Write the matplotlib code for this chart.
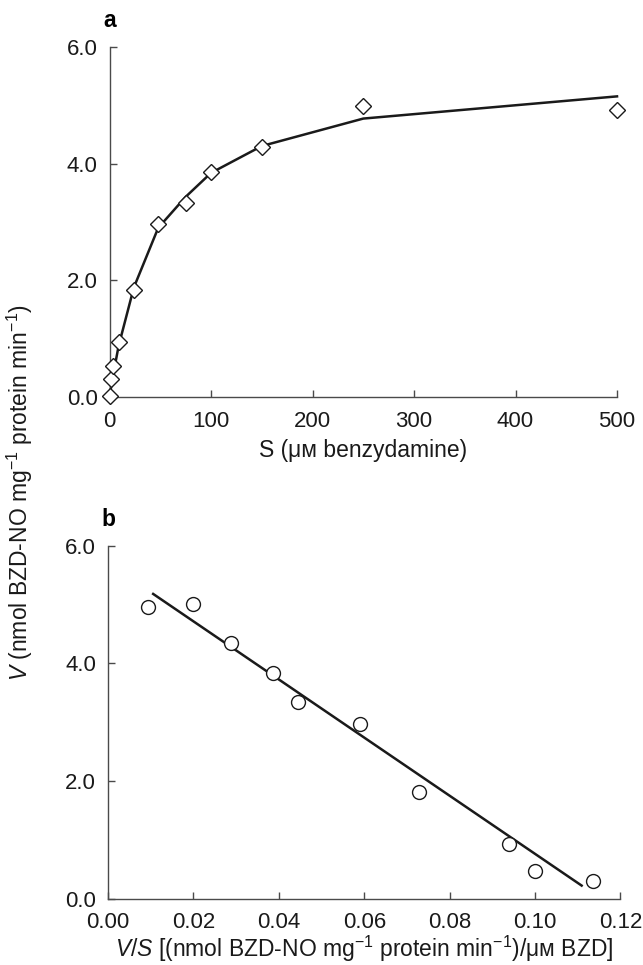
import matplotlib
matplotlib.use("Agg")
import matplotlib.pyplot as plt

plt.rcParams['font.family'] = ['Liberation Sans', 'DejaVu Sans']
plt.rcParams['mathtext.fontset'] = 'custom'
plt.rcParams['mathtext.rm'] = 'Liberation Sans'
plt.rcParams['mathtext.it'] = 'Liberation Sans:italic'
plt.rcParams['mathtext.bf'] = 'Liberation Sans:bold'

# Panel a: Michaelis-Menten
s_conc = [0, 1.5, 3, 9, 24, 48, 75, 100, 150, 250, 500]
v_obs = [0.02, 0.31, 0.54, 0.95, 1.84, 2.97, 3.32, 3.86, 4.29, 4.99, 4.92]
v_fit = [0.0, 0.17, 0.33, 0.88, 1.88, 2.90, 3.43, 3.84, 4.30, 4.77, 5.15]

# Panel b: Eadie-Hofstee
vs_obs = [0.0094, 0.0199, 0.0287, 0.0386, 0.0444, 0.0589, 0.0729, 0.0940, 0.0999, 0.1136]
v_obs_b = [4.96, 5.01, 4.34, 3.84, 3.34, 2.96, 1.81, 0.93, 0.47, 0.29]
vs_line = [0.01057, 0.1109]
v_line = [5.18, 0.22]

xticks_a = [0, 100, 200, 300, 400, 500]
yticks = [0.0, 2.0, 4.0, 6.0]
xticks_b = [0.00, 0.02, 0.04, 0.06, 0.08, 0.10, 0.12]

FS_TICK = 16
FS_LAB = 16.5
spine_col = '#4a4a4a'

fig = plt.figure(figsize=(6.43, 9.65), dpi=100)
ax1 = fig.add_axes([0.1703, 0.5883, 0.7893, 0.3633])
ax2 = fig.add_axes([0.1680, 0.0689, 0.7970, 0.3656])

for ax in (ax1, ax2):
    for side in ('top', 'right'):
        ax.spines[side].set_visible(False)
    for side in ('left', 'bottom'):
        ax.spines[side].set_color(spine_col)
        ax.spines[side].set_linewidth(1.0)
    ax.tick_params(direction='in', length=5, width=1.0, color=spine_col,
                   labelsize=FS_TICK, labelcolor='#1a1a1a')
    ax.tick_params(axis='x', pad=10)
    ax.tick_params(axis='y', pad=8.5)

ax1.plot(s_conc, v_fit, color='#1a1a1a', lw=1.8, zorder=2, clip_on=False)
ax1.plot(s_conc, v_obs, linestyle='none', marker='D', ms=8.5, mfc='white',
         mec='#1a1a1a', mew=1.0, zorder=3, clip_on=False)
ax1.set_xlim(0, 500)
ax1.set_ylim(0, 6)
ax1.set_xticks(xticks_a)
ax1.set_xticklabels([str(t) for t in xticks_a])
ax1.set_yticks(yticks)
ax1.set_yticklabels(['%.1f' % t for t in yticks])
ax1.set_xlabel('S (\u03bc\u1d0d benzydamine)', fontsize=FS_LAB, labelpad=5,
               color='#1a1a1a')
ax1.text(0.0, 1.075, 'a', transform=ax1.transAxes, fontsize=FS_LAB,
         fontweight='bold', ha='center', va='center')

ax2.plot(vs_line, v_line, color='#1a1a1a', lw=1.8, zorder=2)
ax2.plot(vs_obs, v_obs_b, linestyle='none', marker='o', ms=10, mfc='white',
         mec='#1a1a1a', mew=1.0, zorder=3, clip_on=False)
ax2.set_xlim(0, 0.12)
ax2.set_ylim(0, 6)
ax2.set_xticks(xticks_b)
ax2.set_xticklabels(['%.2f' % t for t in xticks_b])
ax2.set_yticks(yticks)
ax2.set_yticklabels(['%.1f' % t for t in yticks])
ax2.set_xlabel('$V$/$S$ [(nmol BZD-NO mg$^{-1}$ protein min$^{-1}$)/\u03bc\u1d0d BZD]',
               fontsize=FS_LAB, labelpad=0, color='#1a1a1a')
ax2.text(0.0, 1.075, 'b', transform=ax2.transAxes, fontsize=FS_LAB,
         fontweight='bold', ha='center', va='center')

fig.text(0.031, 0.49, '$V$ (nmol BZD-NO mg$^{-1}$ protein min$^{-1}$)',
         rotation=90, fontsize=FS_LAB, ha='center', va='center', color='#1a1a1a')

fig.savefig('out.png', dpi=100)
